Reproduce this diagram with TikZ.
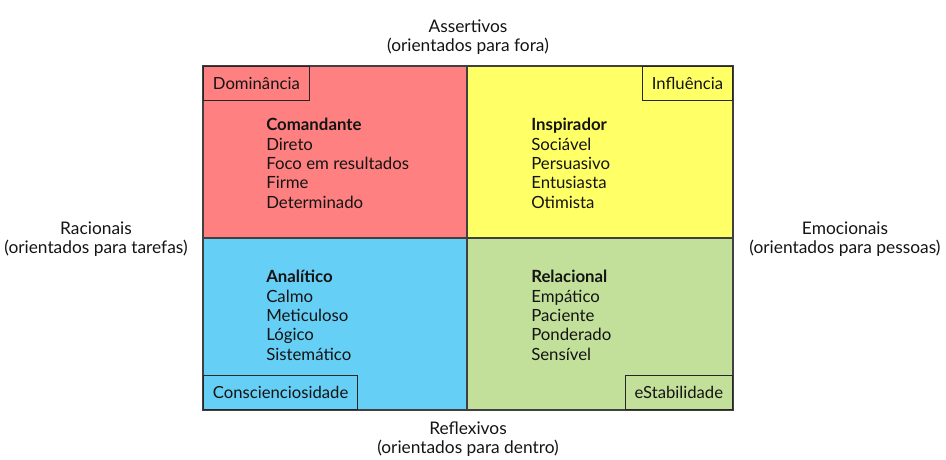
\documentclass[tikz,border=0pt]{standalone}
\usepackage{fontspec}
\setmainfont{Lato}
\usepackage{xcolor}
\definecolor{discred}{RGB}{255,128,128}
\definecolor{discyellow}{RGB}{255,255,102}
\definecolor{discblue}{RGB}{102,207,245}
\definecolor{discgreen}{RGB}{194,224,153}
\definecolor{disctext}{RGB}{20,20,20}

\begin{document}
\begin{tikzpicture}[x=0.75pt, y=-0.75pt,
  quad/.style={draw=black!75, line width=0.9pt},
  tag/.style={draw=black!85, line width=0.9pt, minimum height=25.5pt, inner xsep=7pt, font=\fontsize{12.5}{14}\selectfont, text=disctext},
  traits/.style={anchor=north west, align=left, inner sep=0pt, font=\fontsize{12.6}{14.5}\selectfont, text=disctext},
  axis/.style={align=center, inner sep=0pt, font=\fontsize{13}{14.5}\selectfont, text=disctext}]
\useasboundingbox (0,0) rectangle (946,460);

% Quadrants
\fill[discred] (203,66) rectangle (467,238);
\fill[discyellow] (467,66) rectangle (733,238);
\fill[discblue] (203,238) rectangle (467,410);
\fill[discgreen] (467,238) rectangle (733,410);
\draw[quad] (203,66) rectangle (733,410);
\draw[quad] (467,66) -- (467,410);
\draw[quad] (203,238) -- (733,238);

% Corner tags
\node[tag, anchor=north west] (dom) at (203,66) {Dominância};
\node[tag, anchor=north east] (inf) at (733,66) {Influência};
\node[tag, anchor=south west] (con) at (203,410) {Conscienciosidade};
\node[tag, anchor=south east] (est) at (733,410) {eStabilidade};

% Profiles
\node[traits] (cmd) at (266,118) {\textbf{Comandante}\\Direto\\Foco em resultados\\Firme\\Determinado};
\node[traits] (ins) at (531,118) {\textbf{Inspirador}\\Sociável\\Persuasivo\\Entusiasta\\Otimista};
\node[traits] (ana) at (266,270) {\textbf{Analítico}\\Calmo\\Meticuloso\\Lógico\\Sistemático};
\node[traits] (rel) at (531,270) {\textbf{Relacional}\\Empático\\Paciente\\Ponderado\\Sensível};

% Axes
\node[axis] (top) at (468,37) {Assertivos\\(orientados para fora)};
\node[axis] (bot) at (468,439) {Reflexivos\\(orientados para dentro)};
\node[axis] (lft) at (96,239) {Racionais\\(orientados para tarefas)};
\node[axis] (rgt) at (845,239) {Emocionais\\(orientados para pessoas)};
\end{tikzpicture}
\end{document}
